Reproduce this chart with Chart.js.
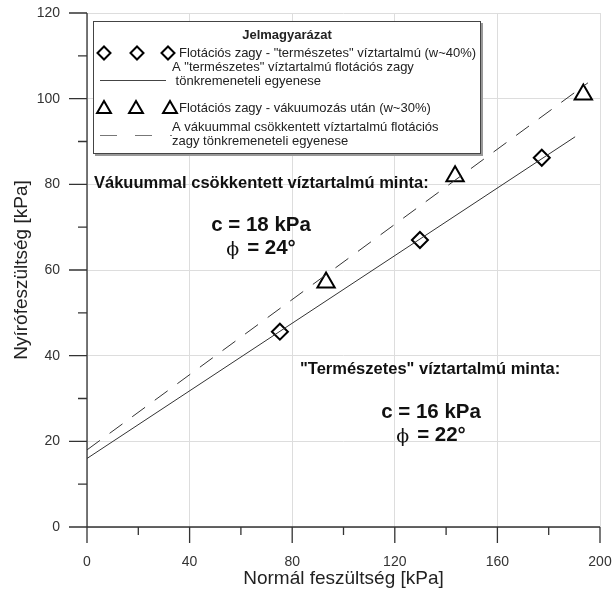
<!DOCTYPE html>
<html>
<head>
<meta charset="utf-8">
<script src="https://cdn.jsdelivr.net/npm/chart.js@4/dist/chart.umd.min.js"></script>
<style>
  html, body { margin: 0; padding: 0; background: #fff; }
  #wrap { width: 612px; height: 591px; }
</style>
</head>
<body>
<div id="wrap"><canvas id="chartNyiro" width="612" height="591"></canvas></div>
<script>
// mért pontok
const termX = [75.2, 129.8, 177.3];
const termY = [45.6, 67.0, 86.2];
const vakX = [93.2, 143.5, 193.5];
const vakY = [57.1, 81.9, 101.0];

// tönkremeneteli egyenesek (végpontok)
const termVonalX = [0, 190.3];
const termVonalY = [16, 91.1];
const vakVonalX = [0, 195.3];
const vakVonalY = [18, 103.7];

const xTicks = [0, 40, 80, 120, 160, 200];
const yTicks = [0, 20, 40, 60, 80, 100, 120];

const toXY = (xs, ys) => xs.map((x, i) => ({ x, y: ys[i] }));

const SANS = 'Arial, "Liberation Sans", Helvetica, sans-serif';
const SERIF = '"DejaVu Serif", "Liberation Serif", serif';

function diamond(ctx, x, y, r) {
  ctx.beginPath();
  ctx.moveTo(x - r, y); ctx.lineTo(x, y - r); ctx.lineTo(x + r, y); ctx.lineTo(x, y + r);
  ctx.closePath(); ctx.fill(); ctx.stroke();
}
function triangle(ctx, x, y, r) {
  const w = r * Math.sin(2 * Math.PI / 3);
  ctx.beginPath();
  ctx.moveTo(x, y - r); ctx.lineTo(x + w, y + r / 2); ctx.lineTo(x - w, y + r / 2);
  ctx.closePath(); ctx.fill(); ctx.stroke();
}

// "ϕ = 24°" középre igazítva
function phiSor(ctx, szoveg, cx, cy) {
  ctx.textAlign = 'left';
  ctx.font = '19px ' + SERIF;
  const wPhi = ctx.measureText('ϕ').width;
  ctx.font = 'bold 20.5px ' + SANS;
  const wTxt = ctx.measureText(szoveg).width;
  const res = 8;
  const x0 = cx - (wPhi + res + wTxt) / 2;
  ctx.fillText(szoveg, x0 + wPhi + res, cy);
  ctx.font = '19px ' + SERIF;
  ctx.fillText('ϕ', x0, cy + 2);
}

// tengelyek, osztások
const tengelyPlugin = {
  id: 'tengely',
  beforeDatasetsDraw(chart) {
    const { ctx, scales: { x, y } } = chart;
    const x0 = x.getPixelForValue(0), x1 = x.getPixelForValue(200);
    const y0 = y.getPixelForValue(0), y1 = y.getPixelForValue(120);
    ctx.save();
    ctx.strokeStyle = '#333';
    ctx.lineWidth = 1.3;
    ctx.beginPath();
    ctx.moveTo(x0, y1); ctx.lineTo(x0, y0 + 16);
    ctx.moveTo(x0 - 18, y0); ctx.lineTo(x1, y0);
    for (let v = 20; v <= 200; v += 20) {
      const px = x.getPixelForValue(v);
      ctx.moveTo(px, y0); ctx.lineTo(px, y0 + (v % 40 === 0 ? 16 : 8));
    }
    for (let v = 10; v <= 120; v += 10) {
      const py = y.getPixelForValue(v);
      ctx.moveTo(x0, py); ctx.lineTo(x0 - (v % 20 === 0 ? 18 : 9), py);
    }
    ctx.stroke();
    ctx.restore();
  }
};

// jelmagyarázat + feliratok
const feliratPlugin = {
  id: 'felirat',
  afterDraw(chart) {
    const ctx = chart.ctx;
    ctx.save();
    // doboz
    ctx.fillStyle = '#999';
    ctx.fillRect(95, 23, 388, 133);
    ctx.fillStyle = '#fff';
    ctx.fillRect(93, 21, 388, 133);
    ctx.strokeStyle = '#444';
    ctx.lineWidth = 1;
    ctx.strokeRect(93.5, 21.5, 387, 132);

    ctx.fillStyle = '#222';
    ctx.textBaseline = 'middle';
    ctx.font = 'bold 13px ' + SANS;
    ctx.textAlign = 'center';
    ctx.fillText('Jelmagyarázat', 287, 35);
    ctx.textAlign = 'left';
    ctx.font = '13px ' + SANS;
    ctx.fillText('Flotációs zagy - "természetes" víztartalmú (w~40%)', 179, 53);
    ctx.fillText('A "természetes" víztartalmú flotációs zagy', 172, 67);
    ctx.fillText(' tönkremeneteli egyenese', 172, 81);
    ctx.fillText('Flotációs zagy - vákuumozás után (w~30%)', 179, 108);
    ctx.fillText('A vákuummal csökkentett víztartalmú flotációs', 172, 127);
    ctx.fillText('zagy tönkremeneteli egyenese', 172, 141);

    ctx.strokeStyle = '#000';
    ctx.fillStyle = '#fff';
    ctx.lineWidth = 2;
    [104, 137, 168].forEach(px => diamond(ctx, px, 53, 6.5));
    [104, 136, 170].forEach(px => triangle(ctx, px, 109, 8));

    ctx.strokeStyle = '#444';
    ctx.lineWidth = 1;
    ctx.beginPath(); ctx.moveTo(100, 80.5); ctx.lineTo(166, 80.5); ctx.stroke();
    ctx.strokeStyle = '#777';
    ctx.setLineDash([17, 18]);
    ctx.beginPath(); ctx.moveTo(100, 135.5); ctx.lineTo(172, 135.5); ctx.stroke();
    ctx.setLineDash([]);

    // magyarázó szövegek
    ctx.fillStyle = '#111';
    ctx.font = 'bold 16.5px ' + SANS;
    ctx.fillText('Vákuummal csökkentett víztartalmú minta:', 94, 183);
    ctx.fillText('"Természetes" víztartalmú minta:', 300, 369);
    ctx.font = 'bold 20.5px ' + SANS;
    ctx.textAlign = 'center';
    ctx.fillText('c = 18 kPa', 261, 225);
    ctx.fillText('c = 16 kPa', 431, 412);
    phiSor(ctx, '= 24°', 261, 248);
    phiSor(ctx, '= 22°', 431, 435);
    ctx.restore();
  }
};

const ctx = document.getElementById('chartNyiro').getContext('2d');
new Chart(ctx, {
  type: 'scatter',
  data: {
    datasets: [
      {
        label: 'A "természetes" víztartalmú flotációs zagy tönkremeneteli egyenese',
        type: 'line',
        data: toXY(termVonalX, termVonalY),
        borderColor: '#333',
        borderWidth: 1,
        pointRadius: 0,
        fill: false
      },
      {
        label: 'A vákuummal csökkentett víztartalmú flotációs zagy tönkremeneteli egyenese',
        type: 'line',
        data: toXY(vakVonalX, vakVonalY),
        borderColor: '#333',
        borderWidth: 1,
        borderDash: [16, 12],
        pointRadius: 0,
        fill: false
      },
      {
        label: 'Flotációs zagy - "természetes" víztartalmú (w~40%)',
        data: toXY(termX, termY),
        pointStyle: 'rectRot',
        pointRadius: 8,
        pointBorderWidth: 2,
        pointBorderColor: '#000',
        pointBackgroundColor: '#fff'
      },
      {
        label: 'Flotációs zagy - vákuumozás után (w~30%)',
        data: toXY(vakX, vakY),
        pointStyle: 'triangle',
        pointRadius: 10,
        pointBorderWidth: 2,
        pointBorderColor: '#000',
        pointBackgroundColor: '#fff'
      }
    ]
  },
  options: {
    responsive: false,
    animation: false,
    layout: { padding: { left: 0, top: 13, right: 12, bottom: 0 } },
    plugins: { legend: { display: false }, tooltip: { enabled: false } },
    scales: {
      x: {
        type: 'linear',
        min: 0,
        max: 200,
        afterFit: s => { s.height = 64; s.paddingLeft = 0; s.paddingRight = 0; },
        afterBuildTicks: s => { s.ticks = xTicks.map(v => ({ value: v })); },
        grid: { color: '#ddd', drawTicks: false },
        border: { display: false },
        ticks: { padding: 27, color: '#333', font: { family: SANS, size: 14 } },
        title: { display: true, text: 'Normál feszültség [kPa]', color: '#222', font: { family: SANS, size: 19 }, padding: { top: 0, bottom: 1 } }
      },
      y: {
        type: 'linear',
        min: 0,
        max: 120,
        afterFit: s => { s.width = 87; s.paddingTop = 0; s.paddingBottom = 0; },
        afterBuildTicks: s => { s.ticks = yTicks.map(v => ({ value: v })); },
        grid: { color: '#ddd', drawTicks: false },
        border: { display: false },
        ticks: { padding: 27, color: '#333', font: { family: SANS, size: 14 } },
        title: { display: true, text: 'Nyírófeszültség [kPa]', color: '#222', font: { family: SANS, size: 19 }, padding: { top: 10, bottom: 12 } }
      }
    }
  },
  plugins: [tengelyPlugin, feliratPlugin]
});
</script>
</body>
</html>
